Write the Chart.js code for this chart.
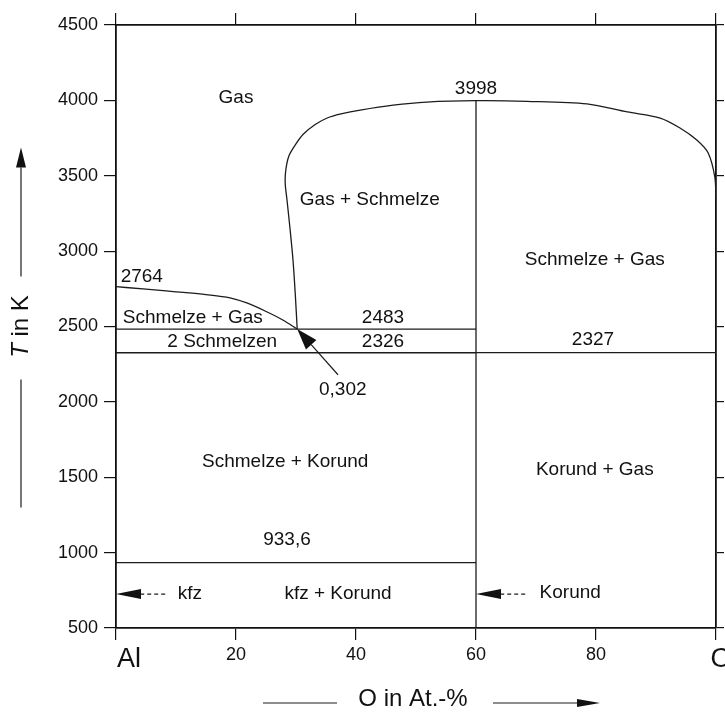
<!DOCTYPE html>
<html>
<head>
<meta charset="utf-8">
<script src="https://cdn.jsdelivr.net/npm/chart.js@4.4.1/dist/chart.umd.min.js"></script>
<style>
  body { margin: 0; background: #fff; }
  #wrap { width: 725px; height: 715px; }
</style>
</head>
<body>
<div id="wrap"><canvas id="phaseChart" width="725" height="715"></canvas></div>
<script>
// Zustandsdiagramm Al-O (O in At.-%, T in K)
const FONT = "'Liberation Sans', Arial, sans-serif";
Chart.defaults.font.family = FONT;

// Liquidus auf der Al-Seite bis zum Monotektikum
const liquidusX = [0, 5, 10, 15, 19, 21.8, 25.2, 27.8, 30.2];
const liquidusT = [2764, 2748, 2730, 2712, 2690, 2656, 2596, 2543, 2483];

// Grenze Gas / Gas + Schmelze
const gasX = [30.2, 29.9, 29.5, 29.0, 28.5, 28.2, 28.3, 28.8, 29.8, 31.2, 33.2, 35.2, 37.5, 40.7,
              46.2, 51.8, 60, 68.5, 78.5, 85.2, 90.7, 94.0, 96.8, 98.7, 99.8, 100];
const gasT = [2483, 2700, 2941, 3150, 3339, 3450, 3538, 3630, 3700, 3775, 3840, 3883, 3910, 3936,
              3969, 3989, 3998, 3994, 3977, 3923, 3883, 3817, 3737, 3651, 3492, 3350];

const korundX = 60;          // Al2O3
const korundMaxT = 3998;
const monotektT = 2483;
const monotektX = 30.2;
const eutektT = [2326, 2327]; // links / rechts von Korund
const alMeltT = 933.6;
const solidArrowT = 725;

// Beschriftungen: Text, O in At.-%, T in K
const phaseLabels = [
  ['Gas', 20, 4020],
  ['3998', 60, 4080],
  ['Gas + Schmelze', 42.3, 3339],
  ['Schmelze + Gas', 79.8, 2941],
  ['2764', 4.3, 2828],
  ['Schmelze + Gas', 12.8, 2556],
  ['2483', 44.5, 2556],
  ['2 Schmelzen', 17.7, 2397],
  ['2326', 44.5, 2397],
  ['2327', 79.5, 2410],
  ['0,302', 37.8, 2079],
  ['Schmelze + Korund', 28.2, 1601],
  ['Korund + Gas', 79.8, 1548],
  ['933,6', 28.5, 1084],
  ['kfz', 12.3, 725],
  ['kfz + Korund', 37, 725],
  ['Korund', 75.7, 732]
];

function pts(xs, ts) {
  return xs.map((v, i) => ({ x: v, y: ts[i] }));
}

function lineSet(data, extra) {
  return Object.assign({
    data: data,
    showLine: true,
    borderColor: '#1c1c1c',
    borderWidth: 1.3,
    pointRadius: 0,
    fill: false,
    tension: 0
  }, extra || {});
}

function arrow(ctx, x0, y0, x1, y1, len, half, dash) {
  const a = Math.atan2(y1 - y0, x1 - x0);
  const bx = x1 - len * Math.cos(a), by = y1 - len * Math.sin(a);
  ctx.setLineDash(dash || []);
  ctx.beginPath();
  ctx.moveTo(x0, y0);
  ctx.lineTo(bx, by);
  ctx.stroke();
  ctx.setLineDash([]);
  ctx.beginPath();
  ctx.moveTo(x1, y1);
  ctx.lineTo(bx + half * Math.sin(a), by - half * Math.cos(a));
  ctx.lineTo(bx - half * Math.sin(a), by + half * Math.cos(a));
  ctx.closePath();
  ctx.fill();
}

const annotations = {
  id: 'annotations',
  afterDraw(chart) {
    const { ctx, chartArea, scales } = chart;
    const px = v => scales.x.getPixelForValue(v);
    const py = v => scales.y.getPixelForValue(v);
    ctx.save();
    ctx.fillStyle = '#111';
    ctx.strokeStyle = '#1c1c1c';
    ctx.lineWidth = 1.2;

    // Bereichstexte
    ctx.font = '19px ' + FONT;
    ctx.textAlign = 'center';
    ctx.textBaseline = 'middle';
    phaseLabels.forEach(([t, x, T]) => ctx.fillText(t, px(x), py(T)));

    // Pfeil auf das Monotektikum
    arrow(ctx, px(37), py(2180), px(monotektX), py(monotektT), 21, 7);
    // kfz / Korund Pfeile
    arrow(ctx, px(8.2), py(solidArrowT), px(0), py(solidArrowT), 25, 5, [4, 3]);
    arrow(ctx, px(68.2), py(solidArrowT), px(korundX), py(solidArrowT), 25, 5, [4, 3]);

    // Komponenten
    ctx.font = '27px ' + FONT;
    ctx.textAlign = 'left';
    ctx.fillText('Al', px(0) + 1, 660);
    ctx.textAlign = 'center';
    ctx.fillText('O', px(100) + 5, 660);

    // x-Achsentitel
    const cx = (chartArea.left + chartArea.right) / 2 - 3;
    ctx.font = '24px ' + FONT;
    ctx.fillText('O in At.-%', cx, 699);
    ctx.beginPath();
    ctx.moveTo(cx - 150, 703);
    ctx.lineTo(cx - 76, 703);
    ctx.stroke();
    arrow(ctx, cx + 80, 703, cx + 187, 703, 23, 4);

    // y-Achsentitel
    const cy = (chartArea.top + chartArea.bottom) / 2;
    const tx = 21;
    arrow(ctx, tx, cy - 50, tx, cy - 179, 20, 5);
    ctx.beginPath();
    ctx.moveTo(tx, cy + 53);
    ctx.lineTo(tx, cy + 181);
    ctx.stroke();
    ctx.translate(tx, cy);
    ctx.rotate(-Math.PI / 2);
    ctx.textAlign = 'left';
    const italic = 'italic 24px ' + FONT, normal = '24px ' + FONT;
    ctx.font = italic;
    const wT = ctx.measureText('T').width;
    ctx.font = normal;
    const wRest = ctx.measureText(' in K').width;
    const start = -(wT + wRest) / 2;
    ctx.font = italic;
    ctx.fillText('T', start, 0);
    ctx.font = normal;
    ctx.fillText(' in K', start + wT, 0);
    ctx.restore();
  }
};

const axisGrid = (len) => ({ drawOnChartArea: false, drawTicks: true, tickLength: len, color: '#111', lineWidth: 1.2 });
const axisBorder = { color: '#111', width: 1.8 };

new Chart(document.getElementById('phaseChart').getContext('2d'), {
  type: 'scatter',
  data: {
    datasets: [
      lineSet(pts(liquidusX, liquidusT), { cubicInterpolationMode: 'monotone' }),
      lineSet(pts(gasX, gasT), { tension: 0.3 }),
      lineSet([{ x: korundX, y: 500 }, { x: korundX, y: korundMaxT }]),
      lineSet([{ x: 0, y: monotektT }, { x: korundX, y: monotektT }]),
      lineSet([{ x: 0, y: eutektT[0] }, { x: korundX, y: eutektT[0] }]),
      lineSet([{ x: korundX, y: eutektT[1] }, { x: 100, y: eutektT[1] }]),
      lineSet([{ x: 0, y: alMeltT }, { x: korundX, y: alMeltT }])
    ]
  },
  options: {
    responsive: false,
    animation: false,
    layout: { padding: 0 },
    plugins: {
      legend: { display: false },
      tooltip: { enabled: false }
    },
    scales: {
      x: {
        type: 'linear', position: 'bottom', min: 0, max: 100,
        ticks: {
          stepSize: 20, color: '#111', font: { size: 18 }, padding: 4, maxRotation: 0, autoSkip: false,
          callback: v => (v === 0 || v === 100) ? '' : String(v)
        },
        grid: axisGrid(12),
        border: axisBorder,
        afterFit: s => { s.height = 87; }
      },
      xTop: {
        type: 'linear', position: 'top', min: 0, max: 100,
        ticks: { stepSize: 20, display: false },
        grid: axisGrid(12),
        border: axisBorder,
        afterFit: s => { s.height = 25; }
      },
      y: {
        type: 'linear', position: 'left', min: 500, max: 4500,
        ticks: { stepSize: 500, color: '#111', font: { size: 18 }, padding: 6, callback: v => String(v) },
        grid: axisGrid(12),
        border: axisBorder,
        afterFit: s => { s.width = 116; }
      },
      yRight: {
        type: 'linear', position: 'right', min: 500, max: 4500,
        ticks: { stepSize: 500, display: false },
        grid: axisGrid(8),
        border: axisBorder,
        afterFit: s => { s.width = 9; }
      }
    }
  },
  plugins: [annotations]
});
</script>
</body>
</html>
